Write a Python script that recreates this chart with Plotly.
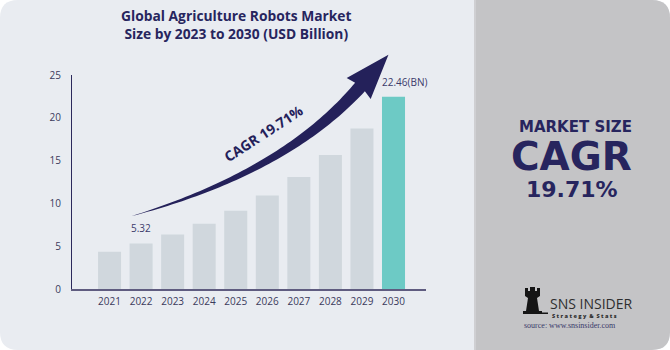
import numpy as np
import plotly.graph_objects as go

# ---------------- data ----------------
years = ["2021", "2022", "2023", "2024", "2025", "2026", "2027", "2028", "2029", "2030"]
market_size = [4.35, 5.32, 6.37, 7.63, 9.13, 10.93, 13.08, 15.66, 18.75, 22.46]
bar_colors = ["#D0D7DD"] * 9 + ["#6DCAC5"]
y_ticks = [0, 5, 10, 15, 20, 25]
title_lines = ["Global Agriculture Robots Market", "Size by 2023 to 2030 (USD Billion)"]
cagr_text = "CAGR 19.71%"

NAVY = "#27255E"
W, H = 670, 350
L, R, T, B = 72, 426, 75, 289   # plot area in pixels


def px(X):
    return (X - L) / (R - L)


def py(Y):
    return (B - Y) / (B - T)


def path_from(points, close=True):
    s = "M " + " L ".join(f"{px(x):.5f},{py(y):.5f}" for x, y in points)
    return s + (" Z" if close else "")


def rounded_rect(x0, y0, x1, y1, r_tl, r_tr, r_br, r_bl):
    p = []
    p.append(f"M {px(x0 + r_tl):.5f},{py(y0):.5f}")
    p.append(f"L {px(x1 - r_tr):.5f},{py(y0):.5f}")
    if r_tr:
        p.append(f"Q {px(x1):.5f},{py(y0):.5f} {px(x1):.5f},{py(y0 + r_tr):.5f}")
    p.append(f"L {px(x1):.5f},{py(y1 - r_br):.5f}")
    if r_br:
        p.append(f"Q {px(x1):.5f},{py(y1):.5f} {px(x1 - r_br):.5f},{py(y1):.5f}")
    p.append(f"L {px(x0 + r_bl):.5f},{py(y1):.5f}")
    if r_bl:
        p.append(f"Q {px(x0):.5f},{py(y1):.5f} {px(x0):.5f},{py(y1 - r_bl):.5f}")
    p.append(f"L {px(x0):.5f},{py(y0 + r_tl):.5f}")
    if r_tl:
        p.append(f"Q {px(x0):.5f},{py(y0):.5f} {px(x0 + r_tl):.5f},{py(y0):.5f}")
    return " ".join(p) + " Z"


fig = go.Figure()
fig.add_trace(go.Bar(
    x=years, y=market_size, marker=dict(color=bar_colors, line=dict(width=0)),
    width=0.73, hoverinfo="skip",
))

shapes = []
# background panels
shapes.append(dict(type="path", xref="paper", yref="paper", layer="below",
                   path=rounded_rect(0, 0, W, H, 18, 18, 18, 18),
                   fillcolor="#E9ECF1", line=dict(width=0)))
shapes.append(dict(type="path", xref="paper", yref="paper", layer="below",
                   path=rounded_rect(474, 0, W, H, 0, 18, 18, 0),
                   fillcolor="#C4C4C6", line=dict(width=0)))
shapes.append(dict(type="rect", xref="paper", yref="paper", layer="below",
                   x0=px(474), x1=px(476), y0=py(0), y1=py(H),
                   fillcolor="#CFCFD2", line=dict(width=0)))

# curved arrow (decoration)
P0 = np.array([132.0, 216.0])
P1 = np.array([285.0, 172.0])
P2 = np.array([360.0, 87.0])
ts = np.linspace(0, 1, 60)
upper, lower = [], []
for t in ts:
    pt = (1 - t) ** 2 * P0 + 2 * (1 - t) * t * P1 + t ** 2 * P2
    d = 2 * (1 - t) * (P1 - P0) + 2 * t * (P2 - P1)
    d = d / np.linalg.norm(d)
    n = np.array([d[1], -d[0]])
    hw = 6.5 * t ** 0.9
    upper.append(tuple(pt - n * hw))
    lower.append(tuple(pt + n * hw))
d_end = (P2 - P1) / np.linalg.norm(P2 - P1)
n_end = np.array([d_end[1], -d_end[0]])
base = P2 - d_end * 2
tip = P2 + d_end * 43
wing1 = base - n_end * 16
wing2 = base + n_end * 16
arrow_pts = upper + [tuple(wing1), tuple(tip), tuple(wing2)] + lower[::-1]
shapes.append(dict(type="path", xref="paper", yref="paper", path=path_from(arrow_pts),
                   fillcolor="#24215A", line=dict(width=0)))

# simple rook icon for logo
rook = [(523, 314), (542, 314), (542, 311), (539, 311), (537, 298), (540, 296), (540, 288),
        (537, 288), (537, 291), (535, 291), (535, 287), (530, 287), (530, 291), (528, 291),
        (528, 288), (525, 288), (525, 296), (528, 298), (526, 311), (523, 311)]
shapes.append(dict(type="path", xref="paper", yref="paper", path=path_from(rook),
                   fillcolor="#151515", line=dict(width=0)))
shapes.append(dict(type="rect", xref="paper", yref="paper",
                   x0=px(542), x1=px(548), y0=py(314), y1=py(312.5),
                   fillcolor="#151515", line=dict(width=0)))

annotations = []


def ann(text, X, Y, size, color=NAVY, family="Open Sans", weight=700, angle=0, xanchor="center"):
    annotations.append(dict(text=text, x=px(X), y=py(Y), xref="paper", yref="paper",
                            xanchor=xanchor, yanchor="middle", showarrow=False, textangle=angle,
                            font=dict(size=size, color=color, family=family, weight=weight)))


ann("<br>".join(title_lines), 236, 24.5, 13.8, weight=700)
ann(cagr_text, 263, 133, 14, color="#24215A", angle=-33)
ann("MARKET SIZE", 575, 127, 15, family="DejaVu Sans", weight=700)
ann("CAGR", 571, 156.5, 39, family="DejaVu Sans", weight=700)
ann("19.71%", 572, 189.5, 22, family="DejaVu Sans", weight=700)
ann("SNS INSIDER", 548, 303.5, 14, color="#2E2E2E", family="Open Sans", weight=500, xanchor="left")
ann("S t r a t e g y  &  S t a t s", 550, 316, 5.5, color="#2E2E2E", weight=800, xanchor="left")
ann("source: www.snsinsider.com", 570, 325, 8, color="#3A3A6A", family="Liberation Serif", weight=400)

# data labels (x given as category index on the category axis)
for idx, suffix, dx in [(1, "", 0), (9, "(BN)", 11)]:
    annotations.append(dict(
        x=idx, y=market_size[idx], xref="x", yref="y", text=f"{market_size[idx]:.2f}{suffix}",
        showarrow=False, yanchor="bottom", yshift=6, xshift=dx,
        font=dict(size=10, color="#3B3A6A", family="Open Sans")))

fig.update_layout(
    width=W, height=H, margin=dict(l=L, r=W - R, t=T, b=H - B),
    paper_bgcolor="white", plot_bgcolor="rgba(0,0,0,0)",
    showlegend=False, bargap=0.27,
    shapes=shapes, annotations=annotations,
    xaxis=dict(type="category", range=[-1.19, 10.03], showline=True, linecolor="#5F5C80",
               linewidth=1.5, showgrid=False, zeroline=False, ticks="outside", ticklen=2,
               tickcolor="rgba(0,0,0,0)", tickfont=dict(size=10, color="#3B3A5C", family="Open Sans"),
               fixedrange=True),
    yaxis=dict(range=[0, 25], tickvals=y_ticks, showline=True, linecolor="#2C2A5C", linewidth=1.2,
               showgrid=False, zeroline=False, ticks="outside", ticklen=8,
               tickcolor="rgba(0,0,0,0)", tickfont=dict(size=10, color="#3B3A5C", family="Open Sans"),
               fixedrange=True),
)

fig.write_html("out.html", config=dict(displayModeBar=False))
